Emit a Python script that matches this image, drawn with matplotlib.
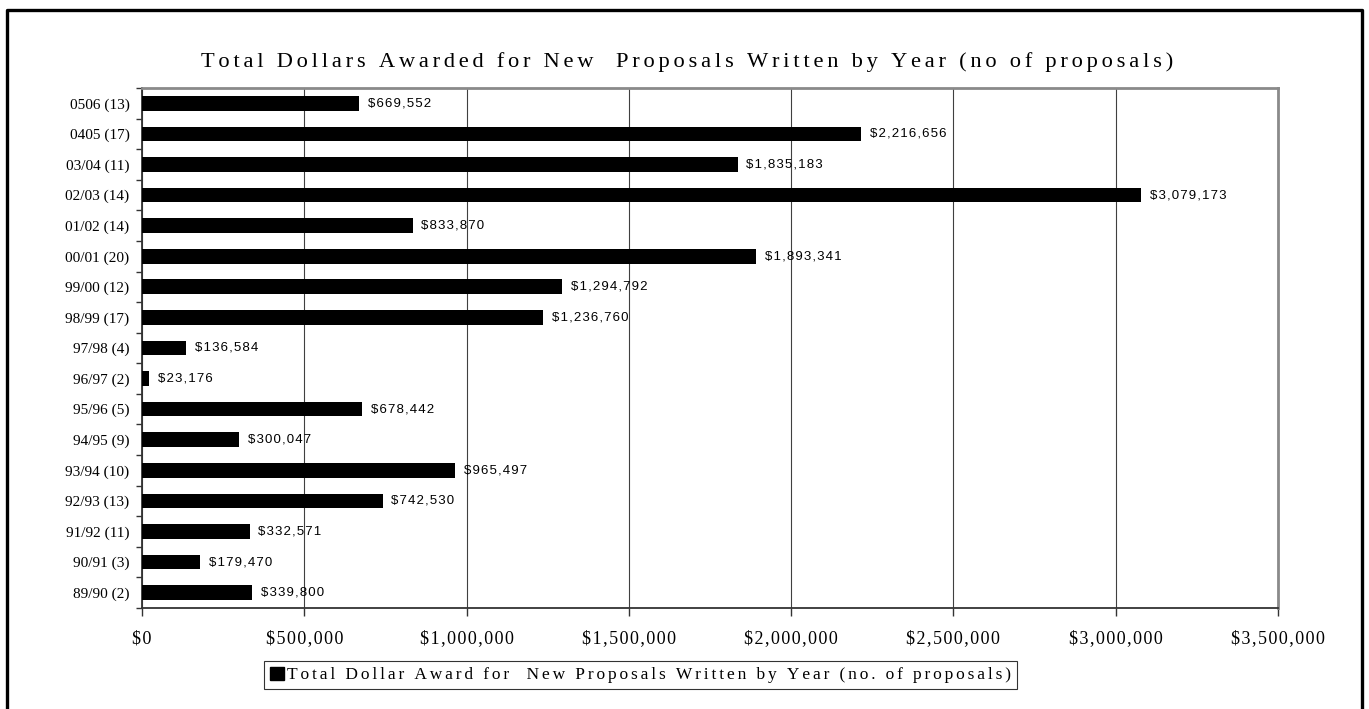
import numpy as np
import matplotlib.pyplot as plt
from matplotlib.lines import Line2D
from matplotlib.patches import Patch
from matplotlib.ticker import FuncFormatter, MultipleLocator

years = ['89/90 (2)', '90/91 (3)', '91/92 (11)', '92/93 (13)', '93/94 (10)',
         '94/95 (9)', '95/96 (5)', '96/97 (2)', '97/98 (4)', '98/99 (17)',
         '99/00 (12)', '00/01 (20)', '01/02 (14)', '02/03 (14)', '03/04 (11)',
         '0405 (17)', '0506 (13)']
awards = [339800, 179470, 332571, 742530, 965497,
          300047, 678442, 23176, 136584, 1236760,
          1294792, 1893341, 833870, 3079173, 1835183,
          2216656, 669552]

title = 'Total Dollars Awarded for New  Proposals Written by Year (no of proposals)'
legend_label = 'Total Dollar Award for  New Proposals Written by Year (no. of proposals)'

serif = ['Liberation Serif', 'DejaVu Serif']
sans = ['Liberation Sans', 'DejaVu Sans']


def spaced(s, sp='\u2006'):
    # fake letter spacing by putting a narrow space between characters
    return sp.join(s)


fig = plt.figure(figsize=(13.69, 7.09), dpi=100)
ax = fig.add_axes([0.1037, 0.1425, 0.8298, 0.7334])

y = np.arange(len(years))
ax.barh(y, awards, height=0.48, color='black', zorder=3)
ax.set_ylim(-0.5, len(years) - 0.5)
ax.set_xlim(0, 3500000)

for yi, v in zip(y, awards):
    ax.annotate(spaced('$' + format(v, ','), '\u200a'), (v, yi), xytext=(6, 0),
                textcoords='offset points', va='center', ha='left',
                fontsize=9.5, family=sans, zorder=4)

ax.xaxis.set_major_locator(MultipleLocator(500000))
ax.xaxis.set_major_formatter(FuncFormatter(lambda v, p: spaced('$' + format(int(v), ','), '\u200a')))
ax.grid(axis='x', color='#404040', linewidth=0.8, zorder=0)

ax.set_yticks(y)
ax.set_yticklabels(years, family=serif, fontsize=11)
ax.set_yticks(np.arange(-0.5, len(years)), minor=True)
ax.tick_params(axis='y', which='major', length=0, pad=9)
ax.tick_params(axis='y', which='minor', length=4.5, width=1, color='#333333')
ax.tick_params(axis='x', length=6, width=1, color='#333333', pad=10)
for lab in ax.get_xticklabels():
    lab.set_family(serif)
    lab.set_fontsize(13)

for s in ['top', 'right']:
    ax.spines[s].set_color('#8a8a8a')
    ax.spines[s].set_linewidth(2)
for s in ['left', 'bottom']:
    ax.spines[s].set_color('#333333')
    ax.spines[s].set_linewidth(1.3)

fig.text(0.502, 0.912, spaced(title), ha='center', va='center', family=serif, fontsize=16.2)

leg = fig.legend(handles=[Patch(facecolor='black', edgecolor='black')],
                 labels=[spaced(legend_label)],
                 loc='center', bbox_to_anchor=(0.468, 0.048),
                 prop={'family': serif, 'size': 12.5}, frameon=True, fancybox=False,
                 handlelength=0.8, handleheight=0.8, handletextpad=0.2, borderpad=0.35)
leg.get_frame().set_edgecolor('black')
leg.get_frame().set_linewidth(0.8)

# outer frame (top, left, right)
fig.add_artist(Line2D([0.005, 0.005, 0.995, 0.995], [0.0, 0.986, 0.986, 0.0],
                      transform=fig.transFigure, color='black', linewidth=2.4))

fig.savefig('out.png', dpi=100)
